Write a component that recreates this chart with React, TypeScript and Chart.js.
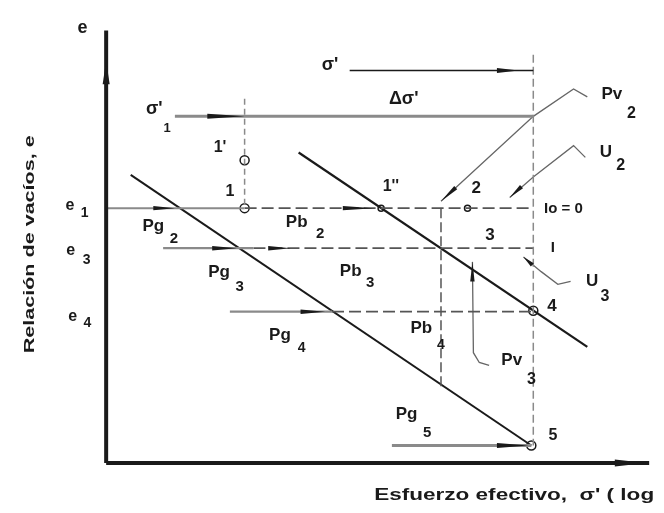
import React, { useEffect, useRef } from "react";
import { Chart, registerables } from "chart.js";
Chart.register(...registerables);

type P = { x: number; y: number };

// ---- diagram data (x: log σ' units, y: void ratio e units) ----
const axisYLine: P[] = [{ x: 0, y: 0 }, { x: 0, y: 44.3 }];
const axisXLine: P[] = [{ x: 0, y: 0 }, { x: 55.3, y: 0 }];
const sigmaTop: P[] = [{ x: 24.8, y: 40.2 }, { x: 43.5, y: 40.2 }];
const sigmaOne: P[] = [{ x: 7.0, y: 35.5 }, { x: 43.5, y: 35.5 }];
const vertRight: P[] = [{ x: 43.5, y: 41.8 }, { x: 43.5, y: 1.8 }];
const vertOne: P[] = [{ x: 14.1, y: 37.3 }, { x: 14.1, y: 26.1 }];
const vertMid: P[] = [{ x: 34.1, y: 26.1 }, { x: 34.1, y: 7.8 }];
const e1Solid: P[] = [{ x: 0, y: 26.1 }, { x: 14.1, y: 26.1 }];
const e1Dash: P[] = [{ x: 14.1, y: 26.1 }, { x: 43.5, y: 26.1 }];
const e3Solid: P[] = [{ x: 5.8, y: 22.0 }, { x: 15.0, y: 22.0 }];
const e3Dash: P[] = [{ x: 15.0, y: 22.0 }, { x: 43.5, y: 22.0 }];
const e4Solid: P[] = [{ x: 12.6, y: 15.5 }, { x: 23.0, y: 15.5 }];
const e4Dash: P[] = [{ x: 23.0, y: 15.5 }, { x: 43.5, y: 15.5 }];
const bottomLine: P[] = [{ x: 29.1, y: 1.8 }, { x: 43.3, y: 1.8 }];
const lineA: P[] = [{ x: 2.5, y: 29.5 }, { x: 43.3, y: 1.8 }];
const lineB: P[] = [{ x: 19.6, y: 31.8 }, { x: 49.0, y: 11.9 }];
const leaderPv2: P[] = [{ x: 34.1, y: 26.8 }, { x: 43.5, y: 35.5 }, { x: 47.6, y: 38.3 }, { x: 49.0, y: 37.5 }];
const leaderU2: P[] = [{ x: 41.1, y: 27.2 }, { x: 43.5, y: 29.3 }, { x: 47.6, y: 32.5 }, { x: 48.8, y: 31.3 }];
const leaderU3: P[] = [{ x: 42.5, y: 21.1 }, { x: 44.3, y: 19.6 }, { x: 46.0, y: 18.3 }, { x: 47.3, y: 18.6 }];
const leaderPv3: P[] = [{ x: 37.3, y: 20.6 }, { x: 37.4, y: 11.3 }, { x: 38.0, y: 10.3 }, { x: 39.0, y: 10.0 }];
const statePoints: P[] = [
  { x: 14.1, y: 31.0 }, // 1'
  { x: 14.1, y: 26.1 }, // 1
  { x: 43.5, y: 15.6 }, // 4
  { x: 43.3, y: 1.8 }, // 5
];
const smallPoints: P[] = [
  { x: 28.0, y: 26.1 }, // 1''
  { x: 36.8, y: 26.1 }, // 2
];

// arrows: [tail, tip, half-width]
const arrows: [P, P, number][] = [
  [{ x: 0, y: 38.8 }, { x: 0, y: 41.2 }, 3.5],
  [{ x: 51.8, y: 0 }, { x: 55.0, y: 0 }, 3.5],
  [{ x: 39.8, y: 40.2 }, { x: 42.0, y: 40.2 }, 2.5],
  [{ x: 10.3, y: 35.5 }, { x: 14.1, y: 35.5 }, 2.5],
  [{ x: 4.8, y: 26.1 }, { x: 7.0, y: 26.1 }, 2.2],
  [{ x: 24.1, y: 26.1 }, { x: 27.3, y: 26.1 }, 2.2],
  [{ x: 10.8, y: 22.0 }, { x: 13.3, y: 22.0 }, 2.2],
  [{ x: 16.5, y: 22.0 }, { x: 18.8, y: 22.0 }, 2.2],
  [{ x: 19.8, y: 15.5 }, { x: 22.3, y: 15.5 }, 2.2],
  [{ x: 39.8, y: 1.8 }, { x: 43.0, y: 1.8 }, 2.5],
  [{ x: 35.6, y: 28.2 }, { x: 34.1, y: 26.8 }, 2.2],
  [{ x: 42.3, y: 28.3 }, { x: 41.1, y: 27.2 }, 2.2],
  [{ x: 43.4, y: 20.3 }, { x: 42.5, y: 21.1 }, 2.2],
  [{ x: 37.3, y: 18.6 }, { x: 37.3, y: 20.6 }, 2.2],
];

// text annotations: [text, x, y, size, align]
const texts: [string, number, number, number, CanvasTextAlign][] = [
  ["e", -2.4, 44.5, 18, "center"],
  ["σ'", 22.8, 40.8, 18, "center"],
  ["σ'", 4.9, 36.3, 18, "center"],
  ["1", 6.2, 34.3, 13, "center"],
  ["Δσ'", 30.3, 37.3, 18, "center"],
  ["1'", 11.6, 32.3, 16, "center"],
  ["1", 12.6, 27.8, 16, "center"],
  ["1''", 29.0, 28.3, 16, "center"],
  ["2", 37.7, 28.1, 17, "center"],
  ["3", 39.1, 23.3, 17, "center"],
  ["4", 45.4, 16.0, 17, "center"],
  ["5", 45.5, 2.8, 16, "center"],
  ["Io = 0", 44.6, 26.0, 15, "left"],
  ["I", 45.5, 22.0, 15, "center"],
  ["e", -3.7, 26.4, 16, "center"],
  ["1", -2.2, 25.6, 14, "center"],
  ["e", -3.6, 21.8, 16, "center"],
  ["3", -2.0, 20.8, 14, "center"],
  ["e", -3.4, 15.0, 16, "center"],
  ["4", -1.9, 14.3, 14, "center"],
  ["Pg", 4.8, 24.2, 17, "center"],
  ["2", 6.9, 23.0, 15, "center"],
  ["Pb", 19.4, 24.6, 17, "center"],
  ["2", 21.8, 23.5, 15, "center"],
  ["Pg", 11.5, 19.5, 17, "center"],
  ["3", 13.6, 18.0, 15, "center"],
  ["Pb", 24.9, 19.6, 17, "center"],
  ["3", 26.9, 18.5, 15, "center"],
  ["Pg", 17.7, 13.1, 17, "center"],
  ["4", 19.9, 11.8, 14, "center"],
  ["Pb", 32.1, 13.8, 17, "center"],
  ["4", 34.1, 12.1, 14, "center"],
  ["Pg", 30.6, 5.0, 17, "center"],
  ["5", 32.7, 3.1, 15, "center"],
  ["Pv", 51.5, 37.8, 17, "center"],
  ["2", 53.5, 35.8, 16, "center"],
  ["U", 50.9, 31.8, 17, "center"],
  ["2", 52.4, 30.5, 16, "center"],
  ["U", 49.5, 18.6, 17, "center"],
  ["3", 50.8, 17.0, 16, "center"],
  ["Pv", 41.3, 10.5, 17, "center"],
  ["3", 43.3, 8.5, 16, "center"],
];

const yTitle = "Relación de vacíos, e";
const xTitle = "Esfuerzo efectivo,  σ' ( log";

const FONT = "'Liberation Sans', Arial, sans-serif";
const INK = "#1a1a1a";
const GREY = "#8a8a8a";

const line = (data: P[], color: string, width: number, dash: number[] = []) => ({
  type: "line" as const,
  data,
  borderColor: color,
  borderWidth: width,
  borderDash: dash,
  pointRadius: 0,
  showLine: true,
  fill: false,
  tension: 0,
});

const stretchText = (ctx: CanvasRenderingContext2D, t: string, cx: number, cy: number, w: number) => {
  const m = ctx.measureText(t).width || 1;
  ctx.save();
  ctx.translate(cx, cy);
  ctx.scale(w / m, 1);
  ctx.textAlign = "center";
  ctx.fillText(t, 0, 0);
  ctx.restore();
};

const annotate = {
  id: "annotate",
  afterDatasetsDraw(chart: any) {
    const { ctx, scales } = chart;
    const sx = (v: number) => scales.x.getPixelForValue(v);
    const sy = (v: number) => scales.y.getPixelForValue(v);
    ctx.save();
    ctx.fillStyle = INK;
    for (const [a, b, w] of arrows) {
      const x1 = sx(a.x), y1 = sy(a.y), x2 = sx(b.x), y2 = sy(b.y);
      const dx = x2 - x1, dy = y2 - y1;
      const len = Math.hypot(dx, dy) || 1;
      const nx = -dy / len, ny = dx / len;
      ctx.beginPath();
      ctx.moveTo(x2, y2);
      ctx.lineTo(x1 + nx * w, y1 + ny * w);
      ctx.lineTo(x1 - nx * w, y1 - ny * w);
      ctx.closePath();
      ctx.fill();
    }
    ctx.textBaseline = "middle";
    for (const [t, x, y, s, al] of texts) {
      ctx.font = `bold ${s}px ${FONT}`;
      ctx.textAlign = al;
      ctx.fillText(t, sx(x), sy(y));
    }
    // axis titles
    ctx.font = `bold 17px ${FONT}`;
    stretchText(ctx, xTitle, sx(41.55), sy(-3.3), 280);
    ctx.save();
    ctx.translate(sx(-7.8), sy(22.4));
    ctx.rotate(-Math.PI / 2);
    ctx.font = `bold 15px ${FONT}`;
    stretchText(ctx, yTitle, 0, 0, 218);
    ctx.restore();
    ctx.restore();
  },
};

export default function App() {
  const ref = useRef<HTMLCanvasElement | null>(null);
  useEffect(() => {
    if (!ref.current) return;
    const chart = new Chart(ref.current, {
      type: "scatter",
      data: {
        datasets: [
          line(axisYLine, INK, 4),
          line(axisXLine, INK, 4),
          line(sigmaTop, INK, 1.5),
          line(sigmaOne, GREY, 3),
          line(vertRight, GREY, 1.5, [8, 4]),
          line(vertOne, GREY, 1.5, [6, 4]),
          line(vertMid, "#555", 1.5, [10, 4]),
          line(e1Solid, GREY, 2),
          line(e1Dash, "#555", 1.8, [12, 5]),
          line(e3Solid, GREY, 2.2),
          line(e3Dash, "#555", 1.8, [12, 5]),
          line(e4Solid, GREY, 2.2),
          line(e4Dash, "#555", 1.8, [12, 5]),
          line(bottomLine, GREY, 3),
          line(lineA, INK, 2),
          line(lineB, INK, 2.2),
          line(leaderPv2, "#666", 1.3),
          line(leaderU2, "#666", 1.3),
          line(leaderU3, "#666", 1.3),
          line(leaderPv3, "#666", 1.3),
          {
            type: "scatter" as const,
            data: statePoints,
            pointRadius: 4.5,
            pointBackgroundColor: "#fff",
            pointBorderColor: INK,
            pointBorderWidth: 1.5,
            showLine: false,
          },
          {
            type: "scatter" as const,
            data: smallPoints,
            pointRadius: 3,
            pointBackgroundColor: "#fff",
            pointBorderColor: INK,
            pointBorderWidth: 1.5,
            showLine: false,
          },
        ] as any,
      },
      options: {
        animation: false,
        responsive: false,
        layout: { padding: 0 },
        plugins: { legend: { display: false }, tooltip: { enabled: false } },
        scales: {
          x: { type: "linear", min: -10.2, max: 56.2, display: false },
          y: { type: "linear", min: -4.5, max: 46.8, display: false },
        },
      },
      plugins: [annotate],
    });
    return () => chart.destroy();
  }, []);
  return (
    <div style={{ position: "absolute", left: 0, top: 0, width: 664, height: 513, background: "#fff" }}>
      <canvas ref={ref} width={664} height={513} />
    </div>
  );
}
